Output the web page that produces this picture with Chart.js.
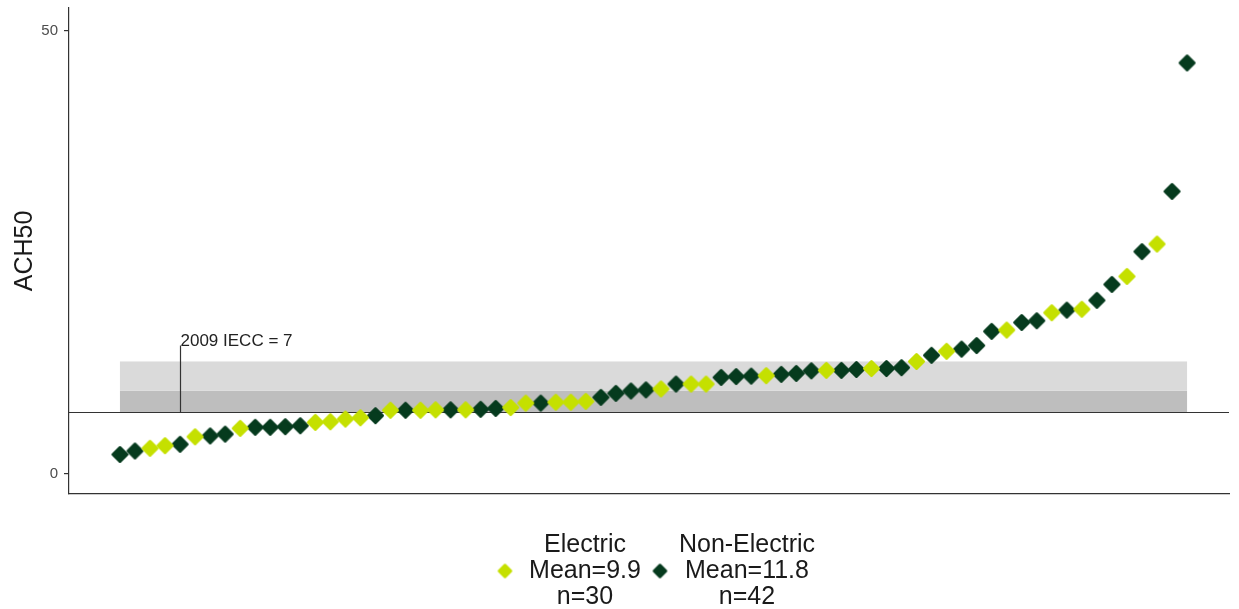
<!DOCTYPE html>
<html>
<head>
<meta charset="utf-8">
<script src="https://cdn.jsdelivr.net/npm/chart.js@4.4.1/dist/chart.umd.min.js"></script>
<style>
  html, body { margin: 0; padding: 0; background: #ffffff; }
  #wrap { width: 1239px; height: 609px; position: relative; }
</style>
</head>
<body>
<div id="wrap"><canvas id="chart" width="1239" height="609"></canvas></div>
<script>
// ACH50 per home, sorted ascending (rank 1..72)
const ach50 = [
  2.2, 2.6, 2.9, 3.2, 3.35, 4.2, 4.3, 4.5, 5.15, 5.27,
  5.27, 5.34, 5.45, 5.83, 5.9, 6.2, 6.35, 6.58, 7.2, 7.2,
  7.2, 7.25, 7.25, 7.25, 7.3, 7.4, 7.5, 8.0, 8.0, 8.1,
  8.1, 8.2, 8.65, 9.1, 9.37, 9.5, 9.6, 10.15, 10.15, 10.15,
  10.9, 11.0, 11.05, 11.1, 11.25, 11.35, 11.65, 11.7, 11.7, 11.8,
  11.9, 11.9, 12.0, 12.7, 13.4, 13.85, 14.1, 14.5, 16.1, 16.25,
  17.1, 17.3, 18.2, 18.5, 18.6, 19.6, 21.4, 22.3, 25.1, 25.96,
  31.9, 46.4
];
// 1 = electric heating, 0 = non-electric
const isElectric = [
  0, 0, 1, 1, 0, 1, 0, 0, 1, 0,
  0, 0, 0, 1, 1, 1, 1, 0, 1, 0,
  1, 1, 0, 1, 0, 0, 1, 1, 0, 1,
  1, 1, 0, 0, 0, 0, 1, 0, 1, 1,
  0, 0, 0, 1, 0, 0, 0, 1, 0, 0,
  1, 0, 0, 1, 0, 1, 0, 0, 0, 1,
  0, 0, 1, 0, 1, 0, 0, 1, 0, 1,
  0, 0
];
const seriesNames = ['Electric', 'Non-Electric'];
const seriesMeans = [9.9, 11.8];
const seriesCounts = [30, 42];
const seriesColors = ['#C5E000', '#063B1E'];
const ieccLevel = 7;
const ieccLabel = '2009 IECC = 7';
const ieccLabelRank = 5;
const ieccLabelTop = 14.5;
const bandLevels = [9.4, 12.7];
const yTickValues = [0, 50];

const FONT = '"Liberation Sans", Arial, sans-serif';

// rounded diamond marker
function diamondStyle(color, r, lw) {
  const c = document.createElement('canvas');
  const s = Math.ceil(2 * r + lw + 4);
  c.width = s; c.height = s;
  const g = c.getContext('2d');
  const m = s / 2;
  g.fillStyle = color; g.strokeStyle = color;
  g.lineWidth = lw; g.lineJoin = 'round';
  g.beginPath();
  g.moveTo(m, m - r); g.lineTo(m + r, m); g.lineTo(m, m + r); g.lineTo(m - r, m);
  g.closePath(); g.fill(); g.stroke();
  return c;
}

const electricPts = [], otherPts = [];
ach50.forEach((v, i) => {
  const p = { x: i + 1, y: v };
  if (isElectric[i]) electricPts.push(p); else otherPts.push(p);
});

const decor = {
  id: 'decor',
  beforeDatasetsDraw(chart) {
    const { ctx, chartArea: a, scales: { x, y } } = chart;
    const x0 = x.getPixelForValue(1), x1 = x.getPixelForValue(ach50.length);
    ctx.save();
    ctx.fillStyle = '#BEBEBE';
    ctx.fillRect(x0, y.getPixelForValue(bandLevels[0]), x1 - x0,
      y.getPixelForValue(ieccLevel) - y.getPixelForValue(bandLevels[0]));
    ctx.fillStyle = '#DADADA';
    ctx.fillRect(x0, y.getPixelForValue(bandLevels[1]), x1 - x0,
      y.getPixelForValue(bandLevels[0]) - y.getPixelForValue(bandLevels[1]));
    // code threshold line
    const yl = Math.round(y.getPixelForValue(ieccLevel)) + 0.5;
    ctx.strokeStyle = '#333333'; ctx.lineWidth = 1.2;
    ctx.beginPath(); ctx.moveTo(a.left, yl); ctx.lineTo(a.right, yl); ctx.stroke();
    // label leader
    const lx = Math.round(x.getPixelForValue(ieccLabelRank)) + 0.5;
    const ly = y.getPixelForValue(ieccLabelTop);
    ctx.beginPath(); ctx.moveTo(lx, yl); ctx.lineTo(lx, ly); ctx.stroke();
    ctx.fillStyle = '#222222';
    ctx.font = '17px ' + FONT;
    ctx.textAlign = 'left'; ctx.textBaseline = 'alphabetic';
    ctx.fillText(ieccLabel, lx, ly);
    ctx.restore();
  },
  afterDraw(chart) {
    const { ctx, chartArea: a } = chart;
    const cx = (a.left + a.right) / 2;
    const groups = [
      { marker: cx - 144, text: cx - 64 },
      { marker: cx + 11, text: cx + 98 }
    ];
    ctx.save();
    ctx.font = '25px ' + FONT;
    ctx.fillStyle = '#1A1A1A';
    ctx.textAlign = 'center'; ctx.textBaseline = 'middle';
    const rows = [545, 571, 597];
    seriesNames.forEach((name, i) => {
      const g = groups[i];
      const img = diamondStyle(seriesColors[i], 6, 2.5);
      ctx.drawImage(img, g.marker - img.width / 2, rows[1] - img.height / 2);
      const lines = [name, 'Mean=' + seriesMeans[i], 'n=' + seriesCounts[i]];
      lines.forEach((t, k) => ctx.fillText(t, g.text, rows[k]));
    });
    ctx.restore();
  }
};

new Chart(document.getElementById('chart'), {
  type: 'scatter',
  data: {
    datasets: [
      { label: seriesNames[0], data: electricPts, pointStyle: diamondStyle(seriesColors[0], 7, 3),
        backgroundColor: seriesColors[0], borderColor: seriesColors[0] },
      { label: seriesNames[1], data: otherPts, pointStyle: diamondStyle(seriesColors[1], 7, 3),
        backgroundColor: seriesColors[1], borderColor: seriesColors[1] }
    ]
  },
  options: {
    responsive: false,
    animation: false,
    devicePixelRatio: 1,
    layout: { padding: { top: 8, right: 10, left: 0, bottom: 0 } },
    plugins: { legend: { display: false }, tooltip: { enabled: false } },
    scales: {
      x: {
        type: 'linear', min: -2.39, max: 74.79,
        ticks: { display: false },
        grid: { display: false, drawTicks: false },
        border: { display: true, color: '#333333', width: 1.2 },
        afterFit(s) { s.height = 115; s.paddingLeft = 0; s.paddingRight = 0; }
      },
      y: {
        type: 'linear', min: -2.26, max: 52.6,
        afterBuildTicks(s) { s.ticks = yTickValues.map(v => ({ value: v })); },
        ticks: { color: '#4D4D4D', font: { family: FONT, size: 15 }, padding: 6 },
        grid: { display: true, drawOnChartArea: false, tickLength: 5, color: '#333333', lineWidth: 1.2 },
        border: { display: true, color: '#333333', width: 1.2 },
        title: { display: true, text: 'ACH50', color: '#1A1A1A',
          font: { family: FONT, size: 25 }, padding: { top: 10, bottom: 0 } },
        afterFit(s) { s.width = 69; s.paddingTop = 0; s.paddingBottom = 0; }
      }
    }
  },
  plugins: [decor]
});
</script>
</body>
</html>
